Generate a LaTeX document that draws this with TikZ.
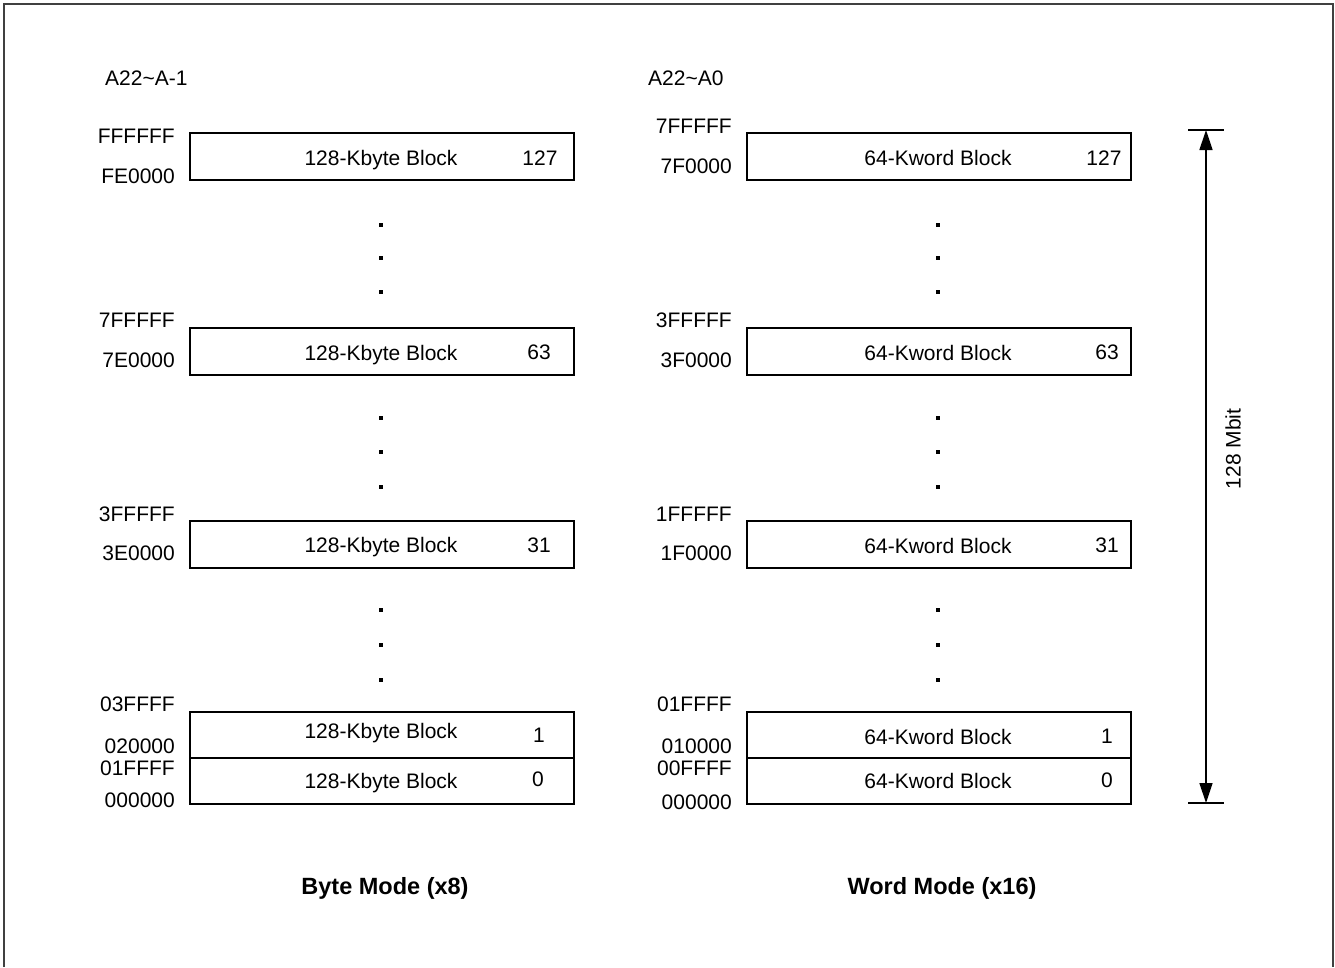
\documentclass[tikz,border=0pt]{standalone}
\usepackage{fontspec}
\setmainfont{Liberation Sans}
\usetikzlibrary{arrows.meta}
\tikzset{
  txt/.style={inner sep=0pt, text height=15pt, text depth=0pt, font=\fontsize{21}{25}\selectfont},
  addr/.style={txt, anchor=east},
  addrl/.style={txt, anchor=west},
  blk/.style={draw, line width=1.6pt, minimum width=384pt, minimum height=47pt, inner sep=0pt},
  blkpair/.style={draw, line width=1.6pt, minimum width=384pt, minimum height=46pt, inner sep=0pt},
  ttl/.style={inner sep=0pt, font=\fontsize{23.5}{28}\selectfont\bfseries},
  dotsq/.style={fill, minimum size=4pt, inner sep=0pt, draw=none}
}
\begin{document}
\begin{tikzpicture}[x=1pt,y=-1pt]
\useasboundingbox (0,0) rectangle (1335,967);
% frame
\draw[line width=1.8pt, black!75] (4,967) -- (4,4) -- (1333,4) -- (1333,967);

% ===== Left column =====
\node[addrl] (hl) at (105,78) {A22\char`~A-1};
% block 127
\node[blk] (L127) at (382,156.5) {};
\node[txt] (L127t) at (381,158) {128-Kbyte Block};
\node[txt] (L127n) at (540,158) {127};
\node[addr] (La1) at (175,136) {FFFFFF};
\node[addr] (La2) at (175,176) {FE0000};
% dots
\node[dotsq] (Ld1) at (381,225) {};
\node[dotsq] (Ld2) at (381,258) {};
\node[dotsq] (Ld3) at (381,292) {};
% block 63
\node[blk] (L63) at (382,351.5) {};
\node[txt] (L63t) at (381,353) {128-Kbyte Block};
\node[txt] (L63n) at (539,352) {63};
\node[addr] (La3) at (175,320) {7FFFFF};
\node[addr] (La4) at (175,360) {7E0000};
\node[dotsq] (Ld4) at (381,418) {};
\node[dotsq] (Ld5) at (381,452) {};
\node[dotsq] (Ld6) at (381,487) {};
% block 31
\node[blk] (L31) at (382,544.5) {};
\node[txt] (L31t) at (381,545) {128-Kbyte Block};
\node[txt] (L31n) at (539,545) {31};
\node[addr] (La5) at (175,514) {3FFFFF};
\node[addr] (La6) at (175,553) {3E0000};
\node[dotsq] (Ld7) at (381,610) {};
\node[dotsq] (Ld8) at (381,645) {};
\node[dotsq] (Ld9) at (381,680) {};
% block 1 and 0
\node[blkpair] (L1) at (382,735) {};
\node[blkpair] (L0) at (382,781) {};
\node[txt] (L1t) at (381,731) {128-Kbyte Block};
\node[txt] (L1n) at (539,735) {1};
\node[txt] (L0t) at (381,781) {128-Kbyte Block};
\node[txt] (L0n) at (538,779) {0};
\node[addr] (La7) at (175,704) {03FFFF};
\node[addr] (La8) at (175,746) {020000};
\node[addr] (La9) at (175,768) {01FFFF};
\node[addr] (La10) at (175,800) {000000};
\node[ttl] (Lttl) at (385,888) {Byte Mode (x8)};

% ===== Right column =====
\node[addrl] (hr) at (648,78) {A22\char`~A0};
\node[blk] (R127) at (939,156.5) {};
\node[txt] (R127t) at (938,158) {64-Kword Block};
\node[txt] (R127n) at (1104,158) {127};
\node[addr] (Ra1) at (732,126) {7FFFFF};
\node[addr] (Ra2) at (732,166) {7F0000};
\node[dotsq] (Rd1) at (938,225) {};
\node[dotsq] (Rd2) at (938,258) {};
\node[dotsq] (Rd3) at (938,292) {};
\node[blk] (R63) at (939,351.5) {};
\node[txt] (R63t) at (938,353) {64-Kword Block};
\node[txt] (R63n) at (1107,352) {63};
\node[addr] (Ra3) at (732,320) {3FFFFF};
\node[addr] (Ra4) at (732,360) {3F0000};
\node[dotsq] (Rd4) at (938,418) {};
\node[dotsq] (Rd5) at (938,452) {};
\node[dotsq] (Rd6) at (938,487) {};
\node[blk] (R31) at (939,544.5) {};
\node[txt] (R31t) at (938,546) {64-Kword Block};
\node[txt] (R31n) at (1107,545) {31};
\node[addr] (Ra5) at (732,514) {1FFFFF};
\node[addr] (Ra6) at (732,553) {1F0000};
\node[dotsq] (Rd7) at (938,610) {};
\node[dotsq] (Rd8) at (938,645) {};
\node[dotsq] (Rd9) at (938,680) {};
\node[blkpair] (R1) at (939,735) {};
\node[blkpair] (R0) at (939,781) {};
\node[txt] (R1t) at (938,737) {64-Kword Block};
\node[txt] (R1n) at (1107,736) {1};
\node[txt] (R0t) at (938,781) {64-Kword Block};
\node[txt] (R0n) at (1107,780) {0};
\node[addr] (Ra7) at (732,704) {01FFFF};
\node[addr] (Ra8) at (732,746) {010000};
\node[addr] (Ra9) at (732,768) {00FFFF};
\node[addr] (Ra10) at (732,802) {000000};
\node[ttl] (Rttl) at (942,888) {Word Mode (x16)};

% ===== size arrow =====
\coordinate (atop) at (1206,130);
\coordinate (abot) at (1206,803);
\coordinate (ttl1) at (1188,130);
\coordinate (ttr1) at (1224,130);
\coordinate (tbl1) at (1188,803);
\coordinate (tbr1) at (1224,803);
\draw[line width=1.6pt] (ttl1) -- (ttr1);
\draw[line width=1.6pt] (tbl1) -- (tbr1);
\draw[line width=1.6pt, {Triangle[length=20pt,width=13pt]}-{Triangle[length=20pt,width=13pt]}] (atop) -- (abot);
\node[txt, rotate=90] (mbit) at (1233,449) {128 Mbit};
\end{tikzpicture}
\end{document}
